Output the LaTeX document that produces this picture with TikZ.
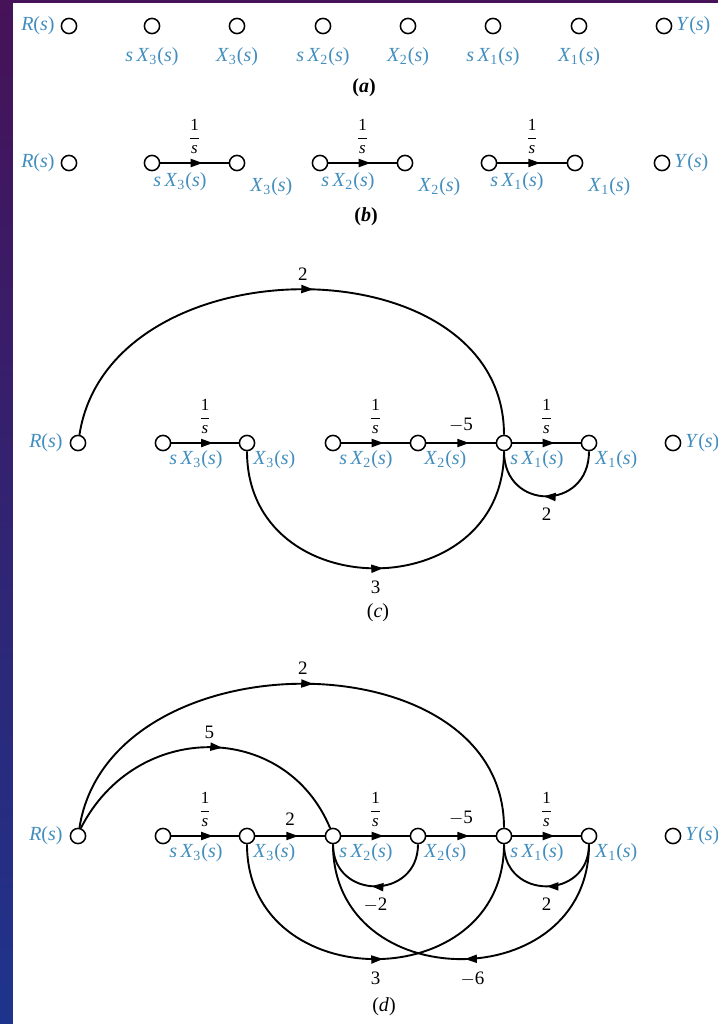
\documentclass[tikz,border=0pt]{standalone}
\usepackage{fontspec}
\setmainfont{Liberation Serif}
\usetikzlibrary{arrows.meta, decorations.markings, calc}
\definecolor{sigblue}{RGB}{66,142,190}
\definecolor{framepurple}{RGB}{70,18,88}
\definecolor{frameblue}{RGB}{30,52,140}
\newcommand{\xs}[1]{\textit{X}\textsubscript{#1}(\textit{s})}
\newcommand{\sxs}[1]{\textit{s}\thinspace\xs{#1}}
\newcommand{\Rsig}{\textit{R}(\textit{s})}
\newcommand{\Ysig}{\textit{Y}(\textit{s})}
\newcommand{\oneovers}{{\fontsize{8.5}{9}\selectfont$\displaystyle\frac{\mbox{1}}{\mbox{\itshape s}}$}}

\begin{document}
\begin{tikzpicture}[x=0.5pt, y=-0.5pt,
    >={Triangle[length=6pt, width=4pt]},
    sig/.style={circle, draw, fill=white, line width=0.75pt,
                minimum size=7.6pt, inner sep=0pt},
    lbl/.style={text=sigblue, font=\fontsize{10}{12}\selectfont, inner sep=1pt},
    gain/.style={font=\fontsize{9.5}{11}\selectfont, inner sep=1pt},
    figcap/.style={font=\fontsize{10}{12}\selectfont},
    flow/.style={line width=0.95pt, postaction={decorate},
                 decoration={markings, mark=at position #1 with {\arrow{>}}}},
    flow/.default=0.62
  ]
    %% FRAME
    \useasboundingbox (0,0) rectangle (718,1024);
    \shade[top color=framepurple, bottom color=frameblue] (0,0) rectangle (718,1024);
    \fill[white] (13,3) rectangle (718,1024);

    %% ROW (a): NODES ONLY
    \node[sig] (ar) at (69,26) {};
    \node[lbl, anchor=east] (lar) at ($(ar)+(-12,0)$) {\Rsig};
    \foreach \n/\x/\lab in {1/152/\sxs{3}, 2/237/\xs{3}, 3/323/\sxs{2},
                            4/408/\xs{2}, 5/493/\sxs{1}, 6/579/\xs{1}} {
      \node[sig] (a\n) at (\x,26) {};
      \node[lbl, anchor=north] (la\n) at ($(a\n)+(0,19)$) {\lab};
    }
    \node[sig] (ay) at (664,26) {};
    \node[lbl, anchor=west] (lay) at ($(ay)+(10,0)$) {\Ysig};
    \node[figcap] (capa) at (364,88) {\textbf{(\textit{a})}};

    %% ROW (b): INTEGRATORS
    \node[sig] (br) at (69,163) {};
    \node[lbl, anchor=east] (lbr) at ($(br)+(-12,0)$) {\Rsig};
    \foreach \n/\x/\lab/\dx/\dy in {1/152/\sxs{3}/-1/7, 2/237/\xs{3}/11/12,
                                    3/320/\sxs{2}/-1/7, 4/405/\xs{2}/11/12,
                                    5/489/\sxs{1}/-1/7, 6/575/\xs{1}/11/12} {
      \node[sig] (b\n) at (\x,163) {};
      \node[lbl, anchor=north west] (lb\n) at ($(b\n)+(\dx,\dy)$) {\lab};
    }
    \node[sig] (by) at (662,163) {};
    \node[lbl, anchor=west] (lby) at ($(by)+(10,0)$) {\Ysig};
    \draw[flow] (b1) -- node[gain, above=3pt] (gb1) {\oneovers} (b2);
    \draw[flow] (b3) -- node[gain, above=3pt] (gb3) {\oneovers} (b4);
    \draw[flow] (b5) -- node[gain, above=3pt] (gb5) {\oneovers} (b6);
    \node[figcap] (capb) at (366,217) {\textbf{(\textit{b})}};

    %% ROW (c): FIRST SUBSYSTEM CLOSED
    \node[sig] (cr) at (78,443) {};
    \node[lbl, anchor=east] (lcr) at ($(cr)+(-13,0)$) {\Rsig};
    \foreach \n/\x/\lab in {1/163/\sxs{3}, 2/247/\xs{3}, 3/333/\sxs{2},
                            4/418/\xs{2}, 5/504/\sxs{1}, 6/589/\xs{1}} {
      \node[sig] (c\n) at (\x,443) {};
      \node[lbl, anchor=north west] (lc\n) at ($(c\n)+(4,5)$) {\lab};
    }
    \node[sig] (cy) at (673,443) {};
    \node[lbl, anchor=west] (lcy) at ($(cy)+(10,0)$) {\Ysig};
    \draw[flow] (c1) -- node[gain, above=3pt] (gc1) {\oneovers} (c2);
    \draw[flow] (c3) -- node[gain, above=3pt] (gc3) {\oneovers} (c4);
    \draw[flow] (c4) -- node[gain, above=4pt] (gc4) {$-$5} (c5);
    \draw[flow] (c5) -- node[gain, above=3pt] (gc5) {\oneovers} (c6);
    \draw[flow=0.53] (cr.80) .. controls +(30,-194) and +(0,-194) .. (c5.north)
      node[gain, pos=0.5, above=3pt] (gcr) {2};
    \draw[flow=0.52] (c2.south) .. controls +(0,156) and +(0,156) .. (c5.south)
      node[gain, pos=0.5, below=5pt] (gcx) {3};
    \draw[flow=0.52] (c6.south) .. controls +(0,60) and +(0,60) .. (c5.south)
      node[gain, pos=0.5, below=4.5pt] (gcl) {2};
    \node[figcap] (capc) at (378,613) {(\textit{c})};

    %% ROW (d): COMPLETE GRAPH
    \node[sig] (dr) at (78,836) {};
    \node[lbl, anchor=east] (ldr) at ($(dr)+(-13,0)$) {\Rsig};
    \foreach \n/\x/\lab in {1/163/\sxs{3}, 2/247/\xs{3}, 3/333/\sxs{2},
                            4/418/\xs{2}, 5/504/\sxs{1}, 6/589/\xs{1}} {
      \node[sig] (d\n) at (\x,836) {};
      \node[lbl, anchor=north west] (ld\n) at ($(d\n)+(4,5)$) {\lab};
    }
    \node[sig] (dy) at (673,836) {};
    \node[lbl, anchor=west] (ldy) at ($(dy)+(10,0)$) {\Ysig};
    \draw[flow] (d1) -- node[gain, above=3pt] (gd1) {\oneovers} (d2);
    \draw[flow] (d2) -- node[gain, above=4pt] (gd2) {2} (d3);
    \draw[flow] (d3) -- node[gain, above=3pt] (gd3) {\oneovers} (d4);
    \draw[flow] (d4) -- node[gain, above=4pt] (gd4) {$-$5} (d5);
    \draw[flow] (d5) -- node[gain, above=3pt] (gd5) {\oneovers} (d6);
    \draw[flow=0.53] (dr.80) .. controls +(30,-192) and +(0,-192) .. (d5.north)
      node[gain, pos=0.5, above=3pt] (gdr2) {2};
    \draw[flow=0.55] (dr.70) .. controls +(55,-108) and +(-45,-108) .. (d3.110)
      node[gain, pos=0.5, above=3pt] (gdr5) {5};
    \draw[flow=0.53] (d4.south) .. controls +(0,56) and +(0,56) .. (d3.south)
      node[gain, pos=0.5, below=4.5pt] (gdl2) {$-$2};
    \draw[flow=0.5] (d6.south) .. controls +(0,56) and +(0,56) .. (d5.south)
      node[gain, pos=0.5, below=4.5pt] (gdl1) {2};
    \draw[flow=0.52] (d2.south) .. controls +(0,153) and +(0,153) .. (d5.south)
      node[gain, pos=0.5, below=5pt] (gdx3) {3};
    \draw[flow=0.49] (d6.south) .. controls +(0,153) and +(0,153) .. (d3.south)
      node[gain, pos=0.47, below=5pt] (gdx6) {$-$6};
    \node[figcap] (capd) at (384,1007) {(\textit{d})};
\end{tikzpicture}
\end{document}
